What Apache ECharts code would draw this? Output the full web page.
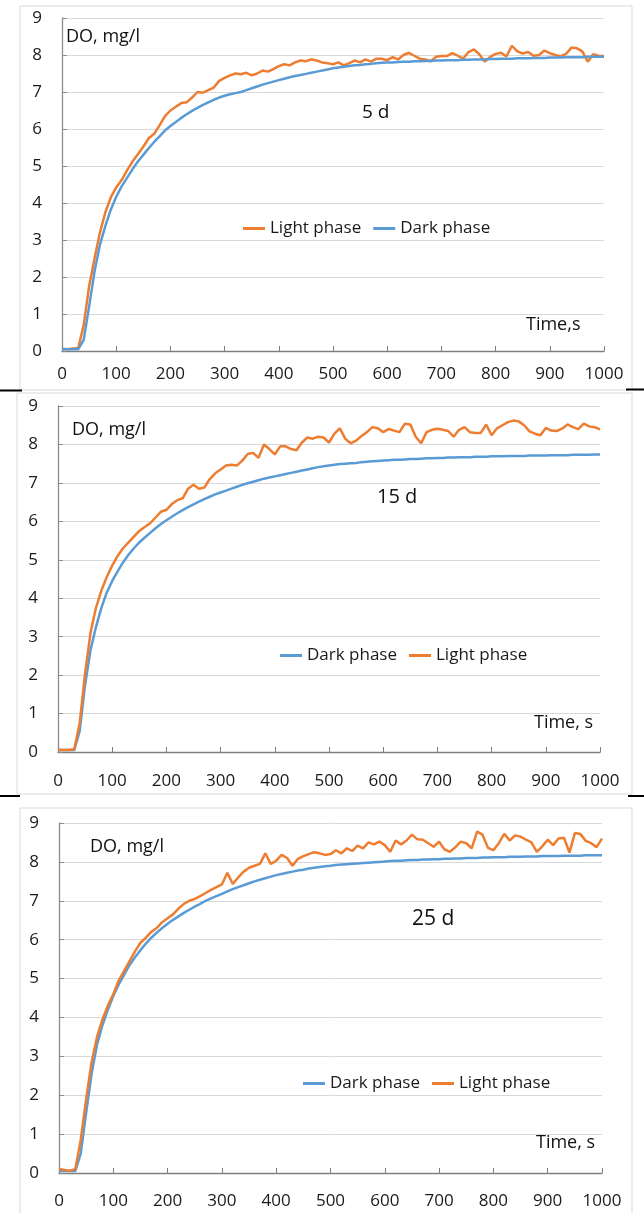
<!DOCTYPE html>
<html>
<head>
<meta charset="utf-8">
<script src="https://cdn.jsdelivr.net/npm/echarts@6/dist/echarts.min.js"></script>
<style>
  html, body { margin: 0; padding: 0; background: #fff; }
  #main { width: 644px; height: 1213px; }
</style>
</head>
<body>
<div id="main"></div>
<script>
// time, s (every 10 s)
var time = [0,10,20,30,40,50,60,70,80,90,100,110,120,130,140,150,160,170,180,190,200,
  210,220,230,240,250,260,270,280,290,300,310,320,330,340,350,360,370,380,390,400,
  410,420,430,440,450,460,470,480,490,500,510,520,530,540,550,560,570,580,590,600,
  610,620,630,640,650,660,670,680,690,700,710,720,730,740,750,760,770,780,790,800,
  810,820,830,840,850,860,870,880,890,900,910,920,930,940,950,960,970,980,990,1000];

// 5 d
var dark5 = [0.05,0.05,0.05,0.05,0.3,1.2,2.15,2.87,3.38,3.82,4.17,4.45,4.68,4.91,5.12,5.3,5.48,5.65,5.8,5.96,6.08,
  6.19,6.3,6.4,6.49,6.57,6.65,6.72,6.79,6.85,6.9,6.94,6.97,7.0,7.05,7.1,7.15,7.2,7.24,7.28,7.32,
  7.36,7.4,7.43,7.46,7.49,7.52,7.55,7.58,7.61,7.64,7.66,7.68,7.7,7.72,7.73,7.75,7.76,7.78,7.79,7.8,
  7.8,7.81,7.82,7.82,7.83,7.83,7.84,7.84,7.85,7.85,7.86,7.86,7.86,7.87,7.87,7.88,7.88,7.88,7.89,7.89,
  7.9,7.9,7.9,7.91,7.91,7.91,7.92,7.92,7.92,7.93,7.93,7.93,7.94,7.94,7.94,7.94,7.95,7.95,7.95,7.95];
var light5 = [0.06,0.05,0.07,0.08,0.7,1.75,2.5,3.2,3.75,4.15,4.42,4.62,4.88,5.12,5.32,5.52,5.75,5.87,6.1,6.35,6.5,
  6.6,6.7,6.72,6.85,7.0,6.98,7.05,7.12,7.3,7.38,7.45,7.5,7.48,7.52,7.45,7.5,7.58,7.55,7.62,7.7,
  7.75,7.72,7.8,7.85,7.83,7.88,7.85,7.8,7.78,7.75,7.8,7.72,7.78,7.85,7.8,7.88,7.82,7.9,7.9,7.86,
  7.94,7.88,8.0,8.06,7.98,7.9,7.88,7.83,7.95,7.97,7.97,8.05,7.98,7.9,8.08,8.15,8.02,7.82,7.95,8.03,
  8.06,7.96,8.25,8.1,8.04,8.08,7.98,8.0,8.12,8.05,8.0,7.97,8.03,8.2,8.18,8.1,7.82,8.02,7.98,7.97];

// 15 d
var dark15 = [0.05,0.05,0.05,0.05,0.55,1.75,2.65,3.25,3.75,4.15,4.45,4.7,4.93,5.13,5.3,5.45,5.58,5.7,5.82,5.93,6.03,
  6.12,6.21,6.29,6.37,6.44,6.51,6.58,6.64,6.7,6.75,6.8,6.85,6.9,6.95,6.99,7.03,7.07,7.11,7.14,7.17,
  7.2,7.23,7.26,7.29,7.32,7.35,7.38,7.41,7.43,7.45,7.47,7.49,7.5,7.51,7.52,7.54,7.55,7.56,7.57,7.58,
  7.59,7.6,7.6,7.61,7.62,7.62,7.63,7.64,7.64,7.65,7.65,7.66,7.66,7.67,7.67,7.67,7.68,7.68,7.68,7.69,
  7.69,7.69,7.7,7.7,7.7,7.7,7.71,7.71,7.71,7.71,7.72,7.72,7.72,7.72,7.73,7.73,7.73,7.73,7.74,7.74];
var light15 = [0.05,0.05,0.05,0.07,0.75,2.05,3.1,3.75,4.2,4.55,4.85,5.1,5.3,5.45,5.6,5.75,5.85,5.95,6.1,6.25,6.3,
  6.45,6.55,6.6,6.85,6.95,6.85,6.88,7.1,7.25,7.35,7.45,7.47,7.45,7.58,7.75,7.78,7.65,8.0,7.88,7.74,
  7.95,7.95,7.88,7.85,8.05,8.18,8.15,8.2,8.18,8.05,8.28,8.42,8.15,8.03,8.1,8.22,8.32,8.45,8.42,8.32,
  8.4,8.36,8.32,8.54,8.52,8.2,8.03,8.32,8.38,8.41,8.38,8.35,8.2,8.38,8.45,8.32,8.3,8.3,8.52,8.24,
  8.42,8.5,8.58,8.62,8.6,8.5,8.34,8.28,8.24,8.43,8.36,8.35,8.41,8.52,8.45,8.4,8.54,8.47,8.45,8.39];

// 25 d
var dark25 = [0.05,0.05,0.05,0.05,0.5,1.55,2.55,3.3,3.8,4.2,4.55,4.85,5.1,5.35,5.55,5.73,5.9,6.05,6.18,6.3,6.41,
  6.51,6.6,6.69,6.77,6.85,6.92,7.0,7.06,7.12,7.18,7.24,7.3,7.35,7.4,7.45,7.5,7.54,7.58,7.62,7.66,
  7.69,7.72,7.75,7.78,7.8,7.83,7.85,7.87,7.89,7.9,7.92,7.93,7.94,7.95,7.96,7.97,7.98,7.99,8.0,8.01,
  8.02,8.03,8.03,8.04,8.05,8.05,8.06,8.06,8.07,8.07,8.08,8.08,8.09,8.09,8.1,8.1,8.1,8.11,8.11,8.12,
  8.12,8.12,8.13,8.13,8.13,8.14,8.14,8.14,8.15,8.15,8.15,8.15,8.16,8.16,8.16,8.16,8.17,8.17,8.17,8.17];
var light25 = [0.1,0.08,0.06,0.1,0.85,1.9,2.85,3.5,3.95,4.3,4.6,4.95,5.2,5.45,5.7,5.92,6.05,6.2,6.3,6.45,6.55,
  6.65,6.8,6.92,7.0,7.05,7.12,7.2,7.28,7.35,7.42,7.72,7.43,7.6,7.75,7.85,7.9,7.95,8.22,7.95,8.03,
  8.18,8.1,7.9,8.08,8.15,8.2,8.25,8.22,8.18,8.2,8.3,8.22,8.35,8.28,8.42,8.35,8.5,8.45,8.52,8.43,
  8.26,8.55,8.45,8.55,8.7,8.58,8.57,8.48,8.39,8.52,8.32,8.26,8.38,8.52,8.48,8.35,8.78,8.7,8.36,8.3,
  8.48,8.72,8.55,8.68,8.65,8.57,8.5,8.26,8.4,8.57,8.43,8.6,8.62,8.24,8.74,8.72,8.54,8.48,8.38,8.6];

var ORANGE = '#ED7D31', BLUE = '#5B9BD5';
var FONT = 'Open Sans';

function pairs(vals) {
  return time.map(function (t, i) { return [t, vals[i]]; });
}

var chart = echarts.init(document.getElementById('main'));

var grids = [
  { left: 62, right: 40, top: 18, height: 333 },
  { left: 58, right: 44, top: 406, height: 346 },
  { left: 59, right: 42, top: 823, height: 350 }
];
var labelMargins = [15, 21, 20];

var xAxes = grids.map(function (g, i) {
  return {
    gridIndex: i, type: 'value', min: 0, max: 1000, interval: 100,
    axisLine: { lineStyle: { color: '#7f7f7f', width: 1.3 } },
    axisTick: { inside: true, length: 5, lineStyle: { color: '#7f7f7f' } },
    axisLabel: { color: '#1a1a1a', fontSize: 17, fontFamily: FONT, margin: labelMargins[i],
      formatter: function (v) { return String(v); } },
    splitLine: { show: false }
  };
});
var yAxes = grids.map(function (g, i) {
  return {
    gridIndex: i, type: 'value', min: 0, max: 9, interval: 1,
    axisLine: { show: true, lineStyle: { color: '#8c8c8c', width: 1.3 } },
    axisTick: { show: true, inside: true, length: 5, lineStyle: { color: '#8c8c8c' } },
    axisLabel: { color: '#1a1a1a', fontSize: 17, fontFamily: FONT, margin: 20 },
    splitLine: { lineStyle: { color: '#d9d9d9', width: 1 } }
  };
});

function line(name, color, vals, idx) {
  return {
    name: name, type: 'line', xAxisIndex: idx, yAxisIndex: idx,
    data: pairs(vals), showSymbol: false, symbol: 'none',
    lineStyle: { color: color, width: 2.5 }, itemStyle: { color: color },
    animation: false
  };
}

var legendBase = {
  icon: 'rect', itemWidth: 22, itemHeight: 3, itemGap: 12,
  textStyle: { color: '#1a1a1a', fontSize: 17, fontFamily: FONT }
};

function txt(x, y, s, size) {
  return { type: 'text', left: x, top: y,
    style: { text: s, fill: '#111', font: size + 'px "' + FONT + '"' } };
}

var option = {
  animation: false,
  grid: grids,
  xAxis: xAxes,
  yAxis: yAxes,
  legend: [
    Object.assign({ left: 238, top: 215, data: ['Light phase', 'Dark phase'] }, legendBase),
    Object.assign({ left: 275, top: 642, data: ['Dark phase', 'Light phase'] }, legendBase),
    Object.assign({ left: 298, top: 1070, data: ['Dark phase', 'Light phase'] }, legendBase)
  ],
  series: [
    line('Light phase', ORANGE, light5, 0),
    line('Dark phase', BLUE, dark5, 0),
    line('Dark phase', BLUE, dark15, 1),
    line('Light phase', ORANGE, light15, 1),
    line('Dark phase', BLUE, dark25, 2),
    line('Light phase', ORANGE, light25, 2)
  ],
  graphic: [
    { type: 'rect', shape: { x: 20, y: 6, width: 612, height: 384 },
      style: { fill: 'none', stroke: '#d9d9d9', lineWidth: 1 }, z: -1 },
    { type: 'rect', shape: { x: 17, y: 393, width: 615, height: 401 },
      style: { fill: 'none', stroke: '#d9d9d9', lineWidth: 1 }, z: -1 },
    { type: 'rect', shape: { x: 20, y: 808, width: 612, height: 420 },
      style: { fill: 'none', stroke: '#d9d9d9', lineWidth: 1 }, z: -1 },
    { type: 'line', shape: { x1: 0, y1: 390.5, x2: 22, y2: 390.5 }, style: { stroke: '#000', lineWidth: 2 } },
    { type: 'line', shape: { x1: 626, y1: 389.5, x2: 644, y2: 389.5 }, style: { stroke: '#000', lineWidth: 2 } },
    { type: 'line', shape: { x1: 0, y1: 796, x2: 20, y2: 796 }, style: { stroke: '#000', lineWidth: 2 } },
    { type: 'line', shape: { x1: 628, y1: 796, x2: 644, y2: 796 }, style: { stroke: '#000', lineWidth: 2 } },
    txt(66, 28, 'DO, mg/l', 18),
    txt(362, 103, '5 d', 19),
    txt(526, 316, 'Time,s', 18),
    txt(72, 421, 'DO, mg/l', 18),
    txt(377, 487, '15 d', 20),
    txt(534, 714, 'Time, s', 18),
    txt(90, 838, 'DO, mg/l', 18),
    txt(412, 909, '25 d', 21),
    txt(536, 1134, 'Time, s', 18)
  ]
};

chart.setOption(option);
</script>
</body>
</html>
